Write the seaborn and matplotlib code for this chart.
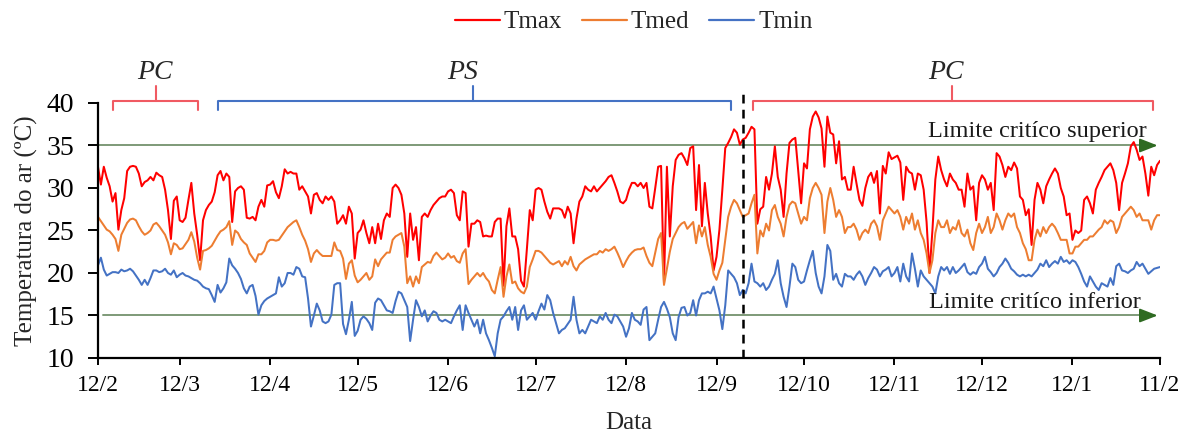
import numpy as np
import pandas as pd
import matplotlib
matplotlib.use("Agg")
import matplotlib.pyplot as plt
from matplotlib.lines import Line2D
import seaborn as sns

# ---------------- data ----------------
start_date = "2018-02-12"
tick_dates = ["2018-02-12", "2018-03-12", "2018-04-12", "2018-05-12", "2018-06-12",
              "2018-07-12", "2018-08-12", "2018-09-12", "2018-10-12", "2018-11-12",
              "2018-12-12", "2019-01-12", "2019-02-11"]
tick_labels = ["12/2", "12/3", "12/4", "12/5", "12/6", "12/7", "12/8", "12/9",
               "12/10", "12/11", "12/12", "12/1", "11/2"]

tmax = [
    32.5, 30.4, 32.5, 31.2, 30.2, 28.4, 29.4, 25.1, 27.4, 28.8,
    32.0, 32.5, 32.6, 32.5, 31.7, 30.2, 30.7, 30.9, 31.3, 30.9,
    31.8, 31.5, 31.3, 29.8, 27.4, 24.0, 28.5, 29.0, 26.2, 26.0,
    26.5, 28.6, 30.6, 27.0, 24.5, 21.5, 26.2, 27.4, 28.0, 28.4,
    29.5, 31.5, 32.0, 30.9, 31.7, 31.3, 26.0, 29.6, 30.0, 30.2,
    29.8, 26.5, 26.4, 26.6, 26.2, 27.8, 28.6, 27.8, 30.3, 30.4,
    30.8, 29.5, 28.8, 30.2, 32.2, 31.7, 31.9, 31.7, 31.7, 29.8,
    30.2, 29.6, 29.0, 27.0, 29.2, 29.4, 28.6, 28.2, 29.0, 28.6,
    29.0, 28.4, 25.8, 26.2, 26.8, 25.8, 27.8, 27.0, 21.7, 24.7,
    25.1, 26.2, 24.7, 23.5, 25.4, 23.5, 25.8, 24.0, 26.2, 27.0,
    26.6, 30.0, 30.4, 30.0, 29.2, 27.0, 21.9, 27.0, 23.9, 25.4,
    21.5, 26.6, 27.0, 26.6, 27.4, 28.0, 28.4, 28.8, 29.0, 29.0,
    29.6, 29.8, 29.4, 26.8, 26.2, 29.6, 29.4, 23.1, 25.8, 25.8,
    26.2, 26.0, 24.3, 24.4, 24.3, 24.3, 26.0, 26.4, 26.4, 18.5,
    25.5, 27.6, 24.3, 24.3, 22.8, 19.1, 18.4, 22.8, 27.4, 26.2,
    29.8, 30.0, 29.8, 28.4, 27.2, 26.4, 27.6, 27.6, 27.6, 27.4,
    26.5, 27.8, 27.0, 23.5, 26.4, 28.4, 29.0, 30.2, 29.8, 29.6,
    30.2, 29.6, 30.0, 30.4, 30.8, 31.3, 31.5, 30.6, 29.6, 28.4,
    28.2, 28.6, 29.8, 30.6, 30.6, 30.2, 30.6, 30.0, 30.6, 27.8,
    27.6, 30.0, 32.5, 32.6, 18.8, 32.5, 24.3, 30.2, 33.3, 33.9,
    34.1, 33.5, 32.7, 34.7, 34.9, 27.4, 32.7, 25.5, 30.6, 27.0,
    24.3, 20.3, 21.9, 25.1, 29.8, 34.7, 35.3, 36.0, 36.9, 36.5,
    35.1, 35.7, 35.9, 36.5, 37.2, 36.9, 25.8, 27.5, 27.8, 31.3,
    29.8, 31.7, 34.9, 31.3, 29.8, 26.6, 31.7, 35.3, 35.7, 35.9,
    32.1, 28.2, 32.9, 32.3, 36.9, 38.4, 39.0, 38.3, 37.0, 32.5,
    38.4, 36.5, 36.3, 32.9, 35.5, 31.0, 31.3, 29.8, 29.8, 32.5,
    30.5, 28.6, 27.9, 30.0, 31.3, 31.8, 30.6, 32.0, 27.0, 32.6,
    31.7, 34.2, 33.4, 33.6, 33.8, 33.0, 28.6, 32.5, 31.9, 31.7,
    29.8, 31.7, 31.5, 29.8, 26.0, 20.0, 25.0, 31.0, 33.7, 32.1,
    31.0, 30.2, 31.7, 31.0, 30.6, 29.8, 29.8, 27.8, 31.7, 29.8,
    30.2, 26.2, 30.6, 31.5, 31.0, 29.8, 30.6, 27.4, 34.1, 33.7,
    32.7, 31.3, 32.5, 32.1, 33.0, 32.3, 29.0, 28.6, 26.8, 27.5,
    23.3, 28.6, 30.6, 29.8, 28.2, 30.2, 31.0, 31.7, 32.3, 31.7,
    30.0, 29.0, 26.8, 27.0, 23.9, 25.0, 24.7, 25.0, 28.6, 29.0,
    28.2, 27.0, 29.8, 30.6, 31.3, 32.1, 32.5, 32.9, 32.1, 30.6,
    27.4, 30.6, 31.7, 32.9, 34.9, 35.4, 34.5, 33.3, 33.7, 31.7,
    29.1, 32.5, 31.5, 32.7, 33.2,
]

tmed = [
    26.6, 26.1, 25.6, 25.1, 24.9, 24.5, 24.0, 22.6, 24.5, 25.2,
    25.9, 26.3, 26.4, 26.2, 25.5, 24.9, 24.5, 24.7, 25.0, 25.7,
    25.9, 25.5, 25.0, 24.5, 23.6, 22.2, 23.5, 23.3, 22.8, 22.9,
    23.4, 23.9, 24.8, 23.7, 21.8, 20.4, 22.6, 22.7, 22.9, 23.2,
    23.8, 24.4, 24.9, 25.1, 25.4, 26.1, 23.3, 25.0, 24.7, 24.0,
    23.6, 23.3, 22.3, 21.8, 21.3, 22.2, 22.2, 22.6, 23.6, 23.9,
    23.9, 23.8, 23.9, 24.4, 24.9, 25.4, 25.7, 26.0, 26.2, 25.4,
    24.5, 23.8, 22.8, 21.3, 22.3, 22.7, 22.3, 22.0, 22.0, 22.0,
    22.0, 23.6, 22.7, 22.6, 21.7, 19.3, 21.1, 21.5, 19.7, 18.9,
    19.2, 19.6, 20.0, 19.2, 19.6, 21.6, 20.8, 21.6, 22.0, 22.4,
    22.4, 23.9, 24.3, 24.5, 24.7, 23.1, 18.8, 19.6, 18.4, 19.6,
    18.8, 20.7, 21.0, 21.3, 21.2, 22.0, 22.4, 22.0, 21.6, 21.8,
    22.3, 21.8, 22.0, 21.4, 21.2, 22.3, 22.8, 18.7, 19.2, 19.6,
    20.0, 19.6, 20.0, 19.4, 19.0, 18.0, 17.6, 19.2, 20.7, 17.2,
    19.6, 21.0, 18.8, 19.0, 18.2, 17.8, 17.6, 18.4, 20.7, 21.6,
    22.6, 22.6, 22.4, 22.0, 21.6, 21.2, 21.0, 21.2, 21.4, 20.8,
    21.4, 21.0, 21.9, 20.8, 20.3, 21.0, 21.3, 21.6, 21.8, 22.0,
    22.2, 22.2, 22.6, 22.4, 22.8, 22.6, 22.8, 23.1, 22.4, 21.6,
    20.7, 21.4, 22.0, 22.4, 22.7, 22.8, 22.8, 23.0, 22.0, 21.2,
    20.8, 22.4, 24.0, 24.7, 18.6, 20.5, 22.5, 24.0, 24.7, 25.4,
    25.8, 26.0, 25.2, 25.6, 26.0, 23.5, 25.6, 24.3, 25.4, 23.3,
    21.9, 19.9, 19.2, 20.3, 21.2, 23.9, 26.6, 27.8, 28.6, 28.2,
    27.4, 26.6, 26.8, 27.0, 28.2, 29.2, 22.3, 25.0, 24.3, 25.8,
    25.0, 27.4, 28.0, 26.6, 25.8, 24.3, 26.6, 28.0, 28.4, 28.2,
    27.0, 25.8, 26.6, 26.2, 28.8, 30.0, 30.6, 30.0, 29.2, 24.7,
    28.4, 30.0, 28.6, 26.6, 27.4, 26.6, 24.7, 25.4, 25.4, 25.8,
    25.1, 23.9, 24.7, 25.1, 24.7, 25.8, 26.2, 25.5, 23.9, 26.2,
    27.0, 27.8, 27.4, 27.0, 27.4, 26.6, 25.1, 26.6, 25.8, 27.0,
    25.1, 26.2, 24.7, 23.9, 22.3, 20.0, 21.5, 24.7, 26.2, 25.4,
    25.4, 26.2, 24.7, 25.4, 25.1, 26.2, 24.7, 24.3, 25.1, 23.5,
    22.7, 24.7, 25.8, 24.7, 25.4, 26.6, 24.7, 25.4, 27.0, 26.2,
    25.1, 26.2, 27.0, 26.6, 27.0, 25.4, 24.7, 23.5, 22.8, 21.5,
    21.5, 23.9, 25.1, 24.3, 25.4, 24.7, 25.4, 25.8, 25.4, 24.7,
    23.9, 23.9, 23.9, 22.3, 22.3, 23.1, 23.1, 23.5, 23.9, 23.9,
    24.3, 24.3, 24.7, 25.1, 25.4, 26.2, 25.8, 26.2, 26.0, 24.7,
    25.4, 26.6, 27.0, 27.4, 27.8, 27.4, 26.6, 27.0, 26.2, 26.2,
    26.2, 25.1, 26.2, 26.8, 26.8,
]

tmin = [
    20.9, 21.8, 20.4, 19.7, 19.9, 20.1, 20.1, 20.0, 20.4, 20.2,
    20.3, 20.5, 20.2, 19.7, 19.2, 18.6, 19.2, 18.6, 19.4, 20.3,
    20.3, 20.1, 20.2, 20.5, 20.0, 19.8, 20.3, 19.5, 19.8, 20.0,
    19.7, 19.6, 19.4, 19.2, 19.1, 18.8, 18.4, 18.2, 18.1, 17.4,
    16.6, 18.6, 17.7, 18.2, 18.9, 21.7, 20.9, 20.5, 20.0, 19.3,
    18.2, 17.6, 18.4, 18.6, 17.3, 15.1, 16.2, 16.7, 17.0, 17.2,
    17.4, 17.6, 19.5, 18.4, 18.8, 20.0, 20.0, 19.8, 20.7, 20.5,
    19.6, 19.5, 17.0, 13.7, 15.0, 16.4, 15.6, 14.3, 14.1, 14.3,
    15.1, 18.6, 18.8, 18.8, 14.0, 12.8, 14.5, 16.6, 12.6, 13.2,
    14.5, 14.9, 14.6, 14.1, 13.3, 16.5, 17.0, 16.8, 16.2, 15.6,
    15.5, 15.3, 16.7, 17.8, 17.6, 16.8, 16.0, 12.0, 14.5, 16.8,
    16.0, 14.9, 15.6, 14.3, 15.0, 15.5, 15.3, 14.5, 14.3, 14.5,
    14.3, 14.1, 14.9, 15.6, 16.2, 13.3, 16.2, 15.3, 14.5, 13.7,
    14.5, 12.9, 14.5, 12.9, 12.1, 11.2, 10.2, 12.9, 14.5, 14.9,
    15.5, 16.0, 14.5, 16.0, 13.3, 15.6, 16.2, 14.5, 14.9, 15.3,
    14.5, 15.5, 16.4, 15.7, 17.4, 16.8, 15.3, 14.1, 12.9, 13.3,
    13.5, 14.0, 14.5, 17.2, 14.5, 12.9, 13.3, 12.9, 13.7, 14.5,
    14.3, 14.1, 14.9, 14.5, 15.3, 14.5, 14.1, 15.1, 14.9, 14.3,
    13.7, 12.5, 13.5, 15.3, 14.5, 14.3, 13.9, 15.7, 16.0, 12.1,
    12.5, 12.9, 14.5, 16.0, 16.6, 15.8, 14.8, 12.9, 12.1, 14.8,
    15.9, 16.0, 15.0, 15.3, 16.8, 15.0, 16.8, 17.6, 17.6, 17.8,
    17.6, 18.4, 17.0, 15.6, 13.4, 16.2, 20.3, 19.9, 19.5, 18.8,
    17.4, 18.0, 17.6, 18.8, 21.1, 19.0, 18.8, 18.4, 18.8, 18.0,
    18.4, 19.2, 19.9, 21.5, 18.8, 17.2, 16.0, 18.4, 21.1, 20.7,
    19.2, 18.8, 19.0, 20.3, 21.5, 22.6, 20.0, 18.4, 17.6, 19.6,
    23.3, 22.6, 19.2, 19.9, 18.8, 18.4, 19.9, 19.6, 19.6, 19.2,
    19.8, 20.2, 19.6, 18.6, 19.4, 20.0, 20.7, 20.4, 19.6, 20.2,
    20.4, 20.7, 19.6, 20.0, 20.7, 19.0, 21.1, 19.6, 19.0, 22.3,
    20.5, 18.4, 20.3, 19.6, 19.2, 18.8, 18.4, 17.6, 19.6, 20.7,
    20.3, 20.7, 19.9, 20.7, 20.0, 20.3, 20.7, 21.1, 20.1, 19.8,
    20.1, 19.9, 20.7, 21.1, 21.9, 20.5, 20.1, 19.6, 20.0, 20.7,
    21.1, 21.7, 21.2, 20.5, 20.2, 19.8, 19.6, 19.8, 19.6, 19.8,
    19.6, 20.0, 20.4, 21.1, 20.8, 21.5, 20.7, 21.1, 21.4, 21.1,
    21.9, 21.3, 21.5, 21.1, 21.5, 21.3, 20.7, 19.9, 19.0, 18.4,
    19.6, 19.0, 18.4, 18.0, 18.8, 18.6, 18.4, 19.4, 18.6, 20.8,
    21.1, 20.3, 20.2, 20.0, 20.3, 20.5, 21.3, 20.8, 21.1, 20.5,
    19.9, 20.2, 20.5, 20.6, 20.7,
]

series_names = ["Tmax", "Tmed", "Tmin"]
limit_upper = 35
limit_lower = 15
split_date = "2018-09-21"

# ---------------- frame ----------------
dates = pd.date_range(start_date, periods=len(tmax), freq="D")
df = pd.DataFrame({"Data": dates, "Tmax": tmax, "Tmed": tmed, "Tmin": tmin})
long = df.melt(id_vars="Data", value_vars=series_names, var_name="Serie", value_name="T")

colors = {"Tmax": "#FF0000", "Tmed": "#ED7D31", "Tmin": "#4472C4"}

sns.set_theme(style="white")
plt.rcParams["font.family"] = ["Liberation Serif", "DejaVu Serif"]

fig = plt.figure(figsize=(11.89, 4.32), dpi=100)
ax = fig.add_axes([0.0824, 0.1713, 0.8932, 0.5903])

sns.lineplot(data=long, x="Data", y="T", hue="Serie", palette=colors,
             linewidth=1.45, ax=ax, legend=False, estimator=None)

d0 = pd.Timestamp(start_date)
def day(n):
    return d0 + pd.Timedelta(days=float(n))

ax.set_xlim(dates[0], dates[-1])
ax.set_ylim(10, 40)
ax.set_yticks([10, 15, 20, 25, 30, 35, 40])
ax.set_xticks(pd.to_datetime(tick_dates))
ax.set_xticklabels(tick_labels)

for s in ["top", "right"]:
    ax.spines[s].set_visible(False)
for s in ["left", "bottom"]:
    ax.spines[s].set_color("black")
    ax.spines[s].set_linewidth(1.6)
ax.tick_params(axis="y", which="both", left=True, length=7, width=1.4,
               direction="out", pad=10, labelsize=20, colors="black")
ax.tick_params(axis="x", which="both", bottom=True, length=5, width=1.4,
               direction="out", pad=7, labelsize=17, colors="black")
ax.set_xlabel("Data", fontsize=18, labelpad=12)
ax.set_ylabel("Temperatura do ar (ºC)", fontsize=18, labelpad=6)
ax.grid(False)

# critical limit lines with arrows
line_col = "#7E9A78"
arrow_col = "#2F6B22"
for yv, x_start in [(limit_upper, day(0)), (limit_lower, day(1.7))]:
    ax.plot([x_start, day(360)], [yv, yv], color=line_col, lw=1.4, zorder=1)
    ax.annotate("", xy=(day(363.2), yv), xytext=(day(358), yv),
                arrowprops=dict(arrowstyle="-|>,head_length=0.9,head_width=0.35",
                                color=arrow_col, lw=1.4, shrinkA=0, shrinkB=0))
ax.text(day(359.5), 36.6, "Limite critíco superior", ha="right", va="center",
        fontsize=17.5, color="#1a1a1a")
ax.text(day(357.5), 16.5, "Limite critíco inferior", ha="right", va="center",
        fontsize=17.5, color="#1a1a1a")

# dashed split line
ax.plot([pd.Timestamp(split_date)] * 2, [10, 41.3], color="black", lw=1.8,
        ls=(0, (3.5, 2.5)), clip_on=False, zorder=5)

# period brackets
def bracket(x0, x1, xm, color):
    ytop, yend, ystem = 40.2, 39.2, 42.0
    ax.plot([day(x0), day(x0), day(x1), day(x1)], [yend, ytop, ytop, yend],
            color=color, lw=1.5, clip_on=False, solid_joinstyle="round")
    ax.plot([day(xm), day(xm)], [ytop, ystem], color=color, lw=1.5, clip_on=False)

red_b = "#F05A62"
blue_b = "#4472C4"
bracket(5.2, 34.4, 20.0, red_b)
bracket(41.3, 217.0, 128.5, blue_b)
bracket(224.6, 361.6, 292.8, red_b)
ax.text(day(19.5), 43.6, "PC", ha="center", va="center", fontsize=20, style="italic",
        clip_on=False)
ax.text(day(125.0), 43.6, "PS", ha="center", va="center", fontsize=20, style="italic",
        clip_on=False)
ax.text(day(290.5), 43.6, "PC", ha="center", va="center", fontsize=20, style="italic",
        clip_on=False)

# legend
handles = [Line2D([0], [0], color=colors[n], lw=1.6) for n in series_names]
fig.legend(handles, series_names, loc="center", bbox_to_anchor=(0.533, 0.949), ncol=3,
           frameon=False, fontsize=18, handlelength=1.8, handletextpad=0.15,
           columnspacing=0.8)

fig.savefig("out.png", dpi=100)
